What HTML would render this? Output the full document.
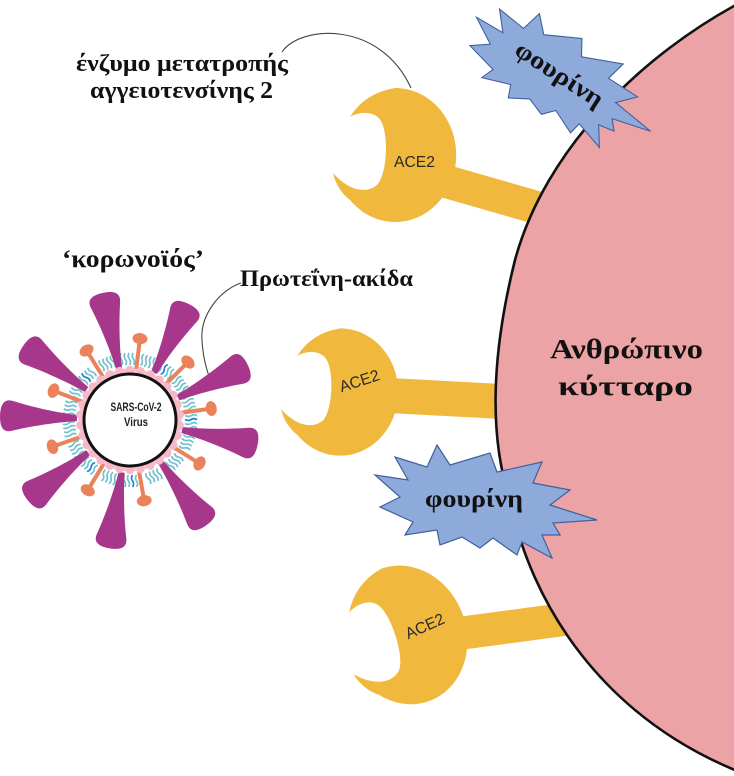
<!DOCTYPE html>
<html>
<head>
<meta charset="utf-8">
<style>
  html,body{margin:0;padding:0;background:#fff;}
  svg{display:block;}
  .lbl{font-family:"Liberation Serif","Noto Serif CJK SC",serif;font-weight:bold;fill:#111;}
  .ace{font-family:"Liberation Sans",sans-serif;fill:#2a2a2a;}
</style>
</head>
<body>
<svg width="734" height="776" viewBox="0 0 734 776" xmlns="http://www.w3.org/2000/svg">
  <defs>
    <path id="spike" d="M -3,-53 C -5,-75 -10,-100 -15,-118 C -17,-126 -12,-130 0,-130 C 12,-130 17,-126 15,-118 C 10,-100 5,-75 3,-53 Z" fill="#a6378b"/>
    <g id="lolli" fill="#ea825c">
      <rect x="-2" y="-80" width="4" height="29"/>
      <ellipse cx="0" cy="-82" rx="7.5" ry="5.5"/>
    </g>
    <g id="lip" fill="none" stroke="#72c0cc" stroke-width="1.7">
      <path d="M-6,-55 q2,-3 0,-6 q-2,-3 0,-6"/>
      <path d="M-2,-55 q2,-3 0,-6 q-2,-3 0,-6"/>
      <path d="M2,-55 q2,-3 0,-6 q-2,-3 0,-6"/>
      <path d="M6,-55 q2,-3 0,-6 q-2,-3 0,-6"/>
    </g>
    <g id="lipb" fill="none" stroke-width="1.7">
      <path d="M-6,-55 q2,-3 0,-6 q-2,-3 0,-6" stroke="#72c0cc"/>
      <path d="M-2,-55 q2,-3 0,-6 q-2,-3 0,-6" stroke="#1f80cc"/>
      <path d="M2,-55 q2,-3 0,-6 q-2,-3 0,-6" stroke="#72c0cc"/>
      <path d="M6,-55 q2,-3 0,-6 q-2,-3 0,-6" stroke="#72c0cc"/>
    </g>
    <circle id="bump" cx="0" cy="-50" r="4.2" fill="#f5b8c6"/>
    <path id="head" fill="#f0b83c" d="M -45,-38 Q -30,-62 0,-67 A 61 67 0 1 1 -45,45 Q -58,35 -62,18 C -48,34 -30,40 -18,30 C -8,20 -6,-20 -14,-34 C -20,-44 -35,-44 -45,-38 Z"/>
    <polygon id="star" fill="#8eaadb" stroke="#3f5f9f" stroke-width="1.2" stroke-linejoin="miter"
      points="-111,-27 -78,-22 -91,-45 -59,-35 -49,-57 -36,-37 4,-49 11,-30 56,-40 47,-19 84,-12 64,3 111,18 67,21 74,33 56,33 66,56 36,40 31,53 7,36 -6,46 -24,35 -46,43 -49,28 -81,33 -73,20 -106,5 -86,-5"/>
  </defs>

  <!-- ACE2 stems -->
  <line x1="420" y1="174" x2="580" y2="220" stroke="#f0b83c" stroke-width="33"/>
  <line x1="380" y1="395" x2="530" y2="403" stroke="#f0b83c" stroke-width="35"/>
  <line x1="440" y1="636" x2="590" y2="616" stroke="#f0b83c" stroke-width="33"/>

  <!-- Cell -->
  <path d="M 745,0 C 640,55 545,150 515,260 C 490,360 490,440 510,500 C 530,600 600,720 750,776 L 770,776 L 770,0 Z"
        fill="#eca3a5" stroke="#111" stroke-width="2.6"/>
  <text class="lbl" x="550" y="358" font-size="27" textLength="153" lengthAdjust="spacingAndGlyphs">Ανθρώπινο</text>
  <text class="lbl" x="558" y="395" font-size="27" textLength="135" lengthAdjust="spacingAndGlyphs">κύτταρο</text>

  <!-- ACE2 heads -->
  <use href="#head" transform="translate(395,155)"/>
  <use href="#head" transform="translate(340,392) scale(0.95)"/>
  <use href="#head" transform="translate(405,635) rotate(-20) scale(1,1.05)"/>
  <text class="ace" x="414.5" y="167" font-size="16" text-anchor="middle" textLength="41" lengthAdjust="spacingAndGlyphs">ACE2</text>
  <g transform="translate(361,386) rotate(-18)">
    <text class="ace" x="0" y="0" font-size="16" text-anchor="middle" textLength="41" lengthAdjust="spacingAndGlyphs">ACE2</text>
  </g>
  <g transform="translate(427,631) rotate(-24)">
    <text class="ace" x="0" y="0" font-size="16" text-anchor="middle" textLength="41" lengthAdjust="spacingAndGlyphs">ACE2</text>
  </g>

  <!-- Furin stars -->
  <use href="#star" transform="translate(562,78) rotate(22) scale(0.92,0.9)"/>
  <g transform="translate(555,81) rotate(33)">
    <text class="lbl" x="-50" y="0" font-size="25" textLength="100" lengthAdjust="spacingAndGlyphs">φουρίνη</text>
  </g>
  <use href="#star" transform="translate(486,502)"/>
  <text class="lbl" x="425" y="507" font-size="25" textLength="98" lengthAdjust="spacingAndGlyphs">φουρίνη</text>

  <!-- Labels -->
  <text class="lbl" x="76" y="71" font-size="24" textLength="212" lengthAdjust="spacingAndGlyphs">ένζυμο μετατροπής</text>
  <text class="lbl" x="90" y="98" font-size="24" textLength="183" lengthAdjust="spacingAndGlyphs">αγγειοτενσίνης 2</text>
  <text class="lbl" x="62" y="267" font-size="25" textLength="142" lengthAdjust="spacingAndGlyphs">‘κορωνοϊός’</text>
  <text class="lbl" x="240" y="286" font-size="23" textLength="173" lengthAdjust="spacingAndGlyphs">Πρωτεΐνη-ακίδα</text>

  <!-- connectors -->
  <path d="M282,52 C300,25 380,20 411,88" fill="none" stroke="#444" stroke-width="1.1"/>
  <path d="M241,283 C220,290 200,315 202,340 C203,360 208,375 213,386" fill="none" stroke="#444" stroke-width="1.1"/>

  <!-- Virus -->
  <g transform="translate(130,420)">
    <use href="#lip" transform="rotate(357.5)"/>
    <use href="#lip" transform="rotate(17)"/>
    <use href="#lipb" transform="rotate(36)"/>
    <use href="#lip" transform="rotate(55)"/>
    <use href="#lip" transform="rotate(73.5)"/>
    <use href="#lipb" transform="rotate(91.5)"/>
    <use href="#lip" transform="rotate(111.5)"/>
    <use href="#lip" transform="rotate(133)"/>
    <use href="#lip" transform="rotate(157)"/>
    <use href="#lipb" transform="rotate(179.5)"/>
    <use href="#lip" transform="rotate(200)"/>
    <use href="#lipb" transform="rotate(221.5)"/>
    <use href="#lip" transform="rotate(241.5)"/>
    <use href="#lip" transform="rotate(261.5)"/>
    <use href="#lip" transform="rotate(281.5)"/>
    <use href="#lip" transform="rotate(297.5)"/>
    <use href="#lipb" transform="rotate(316)"/>
    <use href="#lip" transform="rotate(338)"/>

    <use href="#lolli" transform="rotate(7)"/>
    <use href="#lolli" transform="rotate(328)"/>
    <use href="#lolli" transform="rotate(45)"/>
    <use href="#lolli" transform="rotate(291)"/>
    <use href="#lolli" transform="rotate(82)"/>
    <use href="#lolli" transform="rotate(251)"/>
    <use href="#lolli" transform="rotate(122)"/>
    <use href="#lolli" transform="rotate(211)"/>
    <use href="#lolli" transform="rotate(170)"/>

    <use href="#spike" transform="rotate(-12)"/>
    <use href="#spike" transform="rotate(27)"/>
    <use href="#spike" transform="rotate(65)"/>
    <use href="#spike" transform="rotate(101)"/>
    <use href="#spike" transform="rotate(144)"/>
    <use href="#spike" transform="rotate(189)"/>
    <use href="#spike" transform="rotate(232)"/>
    <use href="#spike" transform="rotate(272)"/>
    <use href="#spike" transform="rotate(305)"/>

    <circle cx="0" cy="0" r="49.5" fill="none" stroke="#f7c2cd" stroke-width="4"/>
    <use href="#bump" transform="rotate(0)"/>
    <use href="#bump" transform="rotate(12)"/>
    <use href="#bump" transform="rotate(24)"/>
    <use href="#bump" transform="rotate(36)"/>
    <use href="#bump" transform="rotate(48)"/>
    <use href="#bump" transform="rotate(60)"/>
    <use href="#bump" transform="rotate(72)"/>
    <use href="#bump" transform="rotate(84)"/>
    <use href="#bump" transform="rotate(96)"/>
    <use href="#bump" transform="rotate(108)"/>
    <use href="#bump" transform="rotate(120)"/>
    <use href="#bump" transform="rotate(132)"/>
    <use href="#bump" transform="rotate(144)"/>
    <use href="#bump" transform="rotate(156)"/>
    <use href="#bump" transform="rotate(168)"/>
    <use href="#bump" transform="rotate(180)"/>
    <use href="#bump" transform="rotate(192)"/>
    <use href="#bump" transform="rotate(204)"/>
    <use href="#bump" transform="rotate(216)"/>
    <use href="#bump" transform="rotate(228)"/>
    <use href="#bump" transform="rotate(240)"/>
    <use href="#bump" transform="rotate(252)"/>
    <use href="#bump" transform="rotate(264)"/>
    <use href="#bump" transform="rotate(276)"/>
    <use href="#bump" transform="rotate(288)"/>
    <use href="#bump" transform="rotate(300)"/>
    <use href="#bump" transform="rotate(312)"/>
    <use href="#bump" transform="rotate(324)"/>
    <use href="#bump" transform="rotate(336)"/>
    <use href="#bump" transform="rotate(348)"/>

    <circle cx="0" cy="0" r="46" fill="#fff" stroke="#111" stroke-width="3"/>
    <text x="6" y="-9" font-family="Liberation Sans Narrow, Liberation Sans, sans-serif" font-weight="bold" font-size="12" fill="#222" text-anchor="middle" textLength="51" lengthAdjust="spacingAndGlyphs">SARS-CoV-2</text>
    <text x="6" y="6" font-family="Liberation Sans Narrow, Liberation Sans, sans-serif" font-weight="bold" font-size="12" fill="#222" text-anchor="middle" textLength="24" lengthAdjust="spacingAndGlyphs">Virus</text>
  </g>
</svg>
</body>
</html>
